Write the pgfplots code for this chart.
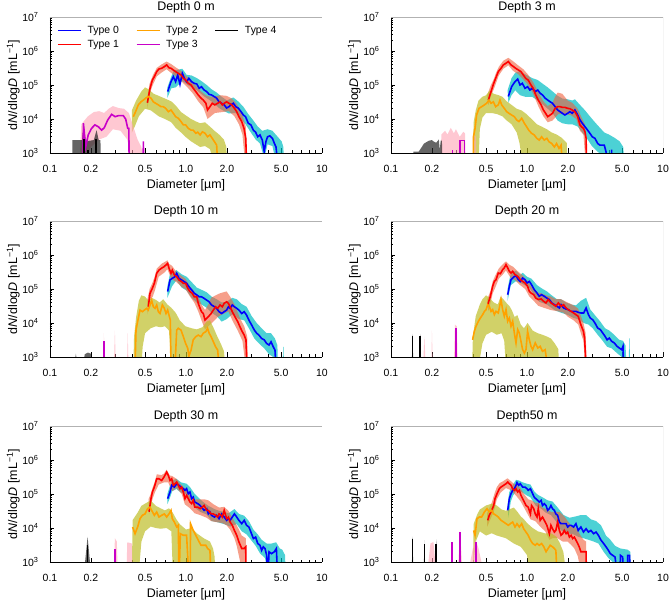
\documentclass[border=0pt]{standalone}
\usepackage{fontspec}
\setmainfont{Liberation Sans}
\usepackage{pgfplots}
\pgfplotsset{compat=1.18}
\definecolor{c0}{RGB}{0,0,255}
\definecolor{c1}{RGB}{255,0,0}
\definecolor{c2}{RGB}{255,162,0}
\definecolor{c3}{RGB}{200,0,200}
\definecolor{c4}{RGB}{0,0,0}
\definecolor{b0}{RGB}{0,190,195}
\definecolor{b1}{RGB}{240,95,60}
\definecolor{b2}{RGB}{190,190,40}
\definecolor{b3}{RGB}{255,163,180}
\definecolor{b4}{RGB}{36,36,36}
\pgfplotsset{
 l0/.style={color=c0, line width=1.6bp},
 l1/.style={color=c1, line width=1.6bp},
 l2/.style={color=c2, line width=1.6bp},
 l3/.style={color=c3, line width=1.6bp},
 l4/.style={color=c4, line width=1.6bp},
 bd0/.style={fill=b0, fill opacity=0.7, draw=none},
 bd1/.style={fill=b1, fill opacity=0.6, draw=none},
 bd2/.style={fill=b2, fill opacity=0.7, draw=none},
 bd3/.style={fill=b3, fill opacity=0.6, draw=none},
 bd4/.style={fill=b4, fill opacity=0.7, draw=none},
}
\pgfplotsset{every axis/.append style={
  scale only axis, width=272bp, height=136bp,
  xmin=0.1, xmax=10, ymin=1e3, ymax=1e7,
  axis lines=left, axis line style={-, line width=0.8bp, black},
  xtick={0.1,0.2,0.5,1,2,5,10},
  xticklabels={0.1,0.2,0.5,1.0,2.0,5.0,10},
  minor xtick={0.3,0.4,0.6,0.7,0.8,0.9,3,4,6,7,8,9},
  ytick={1e3,1e4,1e5,1e6,1e7},
  yticklabels={10\textsuperscript{3},10\textsuperscript{4},10\textsuperscript{5},10\textsuperscript{6},10\textsuperscript{7}},
  minor ytick={2e3,3e3,4e3,5e3,6e3,7e3,8e3,9e3,2e4,3e4,4e4,5e4,6e4,7e4,8e4,9e4,2e5,3e5,4e5,5e5,6e5,7e5,8e5,9e5,2e6,3e6,4e6,5e6,6e6,7e6,8e6,9e6},
  tick align=inside, tick style={black, line width=0.6bp},
  major tick length=4.5bp, minor tick length=2.5bp,
  tick label style={font=\fontsize{10.5}{12}\selectfont},
  xticklabel style={yshift=-9bp},
  yticklabel style={xshift=-8bp},
  title style={font=\fontsize{12.5}{14}\selectfont, yshift=-6bp},
  label style={font=\fontsize{12.5}{14}\selectfont},
  xlabel={Diameter [µm]},
  ylabel={d\textit{N}/dlog\textit{D} [mL\textsuperscript{−1}]},
  xlabel style={at={(axis description cs:0.5,-0.235)}, anchor=center},
  ylabel style={at={(axis description cs:-0.135,0.5)}, anchor=center},
  unbounded coords=jump,
}}
\newcommand\frameit{\draw[gray!60, line width=0.6bp] (rel axis cs:0,1) -- (rel axis cs:1,1) -- (rel axis cs:1,0);}
\begin{document}
\begin{tikzpicture}
\path[use as bounding box] (0,0) rectangle (669bp,601bp);
%================ Panel 1: Depth 0 m
\begin{loglogaxis}[at={(50bp,448bp)}, anchor=south west, title={Depth 0 m},
  legend columns=3,
  legend image code/.code={\draw[#1, line width=1.3bp] (0bp,0bp) -- (23bp,0bp);},
  legend style={at={(0.015,0.965)}, anchor=north west, draw=none, fill=none,
   font=\fontsize{10.5}{12}\selectfont, row sep=1.5bp,
   /tikz/every odd column/.append style={column sep=4bp},
   /tikz/every even column/.append style={column sep=15bp}}]
\addplot[color=c0, line width=1.3bp] coordinates {(0.01,10) (0.011,10)};
\addlegendentry{Type 0}
\addplot[color=c2, line width=1.3bp] coordinates {(0.01,10) (0.011,10)};
\addlegendentry{Type 2}
\addplot[color=c4, line width=1.3bp] coordinates {(0.01,10) (0.011,10)};
\addlegendentry{Type 4}
\addplot[color=c1, line width=1.3bp] coordinates {(0.01,10) (0.011,10)};
\addlegendentry{Type 1}
\addplot[color=c3, line width=1.3bp] coordinates {(0.01,10) (0.011,10)};
\addlegendentry{Type 3}
\addplot[bd0, forget plot] coordinates {(0.73,8.5e4) (0.78,1.8e5) (0.81,2.6e5) (0.87,2.8e5) (0.94,3.0e5) (1.01,2.0e5) (1.1,1.9e5) (1.2,1.6e5) (1.3,1.3e5) (1.42,1.0e5) (1.54,7.5e4) (1.68,6.0e4) (1.83,4.5e4) (2.0,3.5e4) (2.14,4.0e4) (2.23,4.3e4) (2.42,3.3e4) (2.64,2.3e4) (2.87,1.4e4) (3.13,9e3) (3.37,6e3) (3.64,4.5e3) (3.98,5e3) (4.32,4.5e3) (4.72,3e3) (5.05,2.2e3) (5.2,1.5e3) (5.25,500)
 (4.6,500) (4.32,1.6e3) (3.98,1.8e3) (3.76,700) (3.5,1.9e3) (3.25,2.5e3) (3.0,4e3) (2.74,7e3) (2.54,1.0e4) (2.32,1.5e4) (2.07,1.45e4) (1.91,1.7e4) (1.75,2.1e4) (1.54,3.3e4) (1.36,4.6e4) (1.2,7e4) (1.05,9.5e4) (0.94,1.3e5) (0.84,8.5e4) (0.78,8e4) (0.73,4.2e4)};
\addplot[bd1, forget plot] coordinates {(0.52,4.5e4) (0.54,1.1e5) (0.57,1.9e5) (0.61,3.2e5) (0.66,4.0e5) (0.72,4.9e5) (0.78,4.1e5) (0.84,3.3e5) (0.92,2.6e5) (0.99,1.9e5) (1.09,1.4e5) (1.18,9.5e4) (1.29,6.5e4) (1.4,5.0e4) (1.5,4.5e4) (1.63,4.6e4) (1.78,5.0e4) (1.99,4.8e4) (2.17,4.0e4) (2.36,2.8e4) (2.57,1.5e4) (2.75,6e3) (2.82,500)
 (2.72,500) (2.6,3.5e3) (2.45,7e3) (2.27,1.2e4) (2.07,1.7e4) (1.85,1.6e4) (1.63,1.5e4) (1.44,1.0e4) (1.34,2.2e4) (1.23,3.3e4) (1.13,5.5e4) (1.04,8e4) (0.96,1.1e5) (0.88,1.6e5) (0.81,2.0e5) (0.72,2.9e5) (0.66,2.3e5) (0.61,1.8e5) (0.57,1.0e5) (0.54,5.5e4) (0.52,2.0e4)};
\addplot[bd2, forget plot] coordinates {(0.40,1.8e4) (0.43,3.5e4) (0.47,6.5e4) (0.50,8.5e4) (0.53,7.5e4) (0.58,5.5e4) (0.63,4.8e4) (0.7,4.0e4) (0.78,3.3e4) (0.84,2.5e4) (0.92,1.6e4) (0.99,1.3e4) (1.09,1.0e4) (1.18,8.5e3) (1.27,7.5e3) (1.38,8e3) (1.5,6e3) (1.62,4.5e3) (1.75,3.5e3) (1.9,2.5e3) (1.98,1.5e3) (2.0,500)
 (1.6,500) (1.5,1.3e3) (1.38,1.6e3) (1.27,1.5e3) (1.18,1.8e3) (1.09,2.2e3) (0.99,3.0e3) (0.92,4.0e3) (0.84,5.5e3) (0.78,8e3) (0.7,1.0e4) (0.63,1.2e4) (0.55,1.8e4) (0.5,2.0e4) (0.45,1.2e4) (0.42,6e3) (0.40,4e3)};
\addplot[bd3, forget plot] coordinates {(0.165,500) (0.17,7e3) (0.19,1.2e4) (0.21,1.6e4) (0.23,1.7e4) (0.25,1.5e4) (0.27,2.0e4) (0.29,2.4e4) (0.32,2.1e4) (0.35,2.0e4) (0.38,1.5e4) (0.41,6e3) (0.44,2.5e3) (0.47,1.5e3) (0.49,500)
 (0.40,500) (0.37,2.5e3) (0.33,4.5e3) (0.29,5e3) (0.26,3e3) (0.23,2.5e3) (0.20,1.5e3) (0.18,500)};
\addplot[bd4, forget plot] coordinates {(0.146,500) (0.146,2.4e3) (0.172,2.4e3) (0.177,7.5e3) (0.183,2.2e3) (0.21,2.4e3) (0.22,4.7e3) (0.228,2.4e3) (0.235,2.4e3) (0.236,500)};
\addplot[l0, forget plot] coordinates {(0.733,6.4e4) (0.776,1.25e5) (0.807,1.76e5) (0.839,1.25e5) (0.869,1.97e5) (0.903,1.05e5) (0.94,2.2e5) (0.972,1.57e5) (1.01,1.25e5) (1.05,1.57e5) (1.10,1.25e5) (1.15,1.12e5) (1.20,1.07e5) (1.25,8.0e4) (1.30,8.9e4) (1.36,7.1e4) (1.42,6.4e4) (1.48,5.3e4) (1.54,5.1e4) (1.62,4.5e4) (1.68,4.1e4) (1.75,3.2e4) (1.83,2.9e4) (1.91,2.6e4) (1.99,2.1e4) (2.07,2.3e4) (2.14,2.6e4) (2.23,2.9e4) (2.32,2.3e4) (2.42,2.1e4) (2.54,1.64e4) (2.64,1.31e4) (2.74,1.17e4) (2.87,7.5e3) (3.00,6.7e3) (3.13,4.7e3) (3.25,4.1e3) (3.37,3.0e3) (3.50,3.4e3) (3.64,2.4e3) (3.76,1.1e3) (3.87,2.15e3) (3.98,3.0e3) (4.14,3.2e3) (4.32,2.7e3) (4.47,1.9e3) (4.59,1.5e3) (4.72,500)};
\addplot[l1, forget plot] coordinates {(0.52,3.0e4) (0.544,8.0e4) (0.566,1.4e5) (0.585,1.76e5) (0.609,2.47e5) (0.633,2.96e5) (0.662,3.1e5) (0.693,3.46e5) (0.721,3.9e5) (0.750,3.2e5) (0.776,3.1e5) (0.807,2.76e5) (0.839,2.47e5) (0.878,2.2e5) (0.919,1.97e5) (0.956,1.57e5) (0.994,1.4e5) (1.04,1.12e5) (1.09,1.0e5) (1.13,8.0e4) (1.18,6.4e4) (1.23,5.1e4) (1.29,4.1e4) (1.34,3.6e4) (1.40,2.9e4) (1.44,1.84e4) (1.50,2.3e4) (1.56,2.9e4) (1.63,2.6e4) (1.71,2.9e4) (1.78,3.2e4) (1.85,2.6e4) (1.91,2.9e4) (1.99,3.2e4) (2.07,2.9e4) (2.17,2.6e4) (2.27,2.06e4) (2.36,1.64e4) (2.45,1.17e4) (2.57,8.4e3) (2.67,5.3e3) (2.75,2.7e3) (2.79,500)};
\addplot[l2, forget plot] coordinates {(0.410,1.17e4) (0.426,1.64e4) (0.446,2.6e4) (0.467,3.2e4) (0.486,3.6e4) (0.505,4.1e4) (0.528,4.6e4) (0.553,4.1e4) (0.575,3.2e4) (0.598,2.9e4) (0.626,2.6e4) (0.655,2.3e4) (0.681,2.3e4) (0.709,2.06e4) (0.742,1.64e4) (0.776,1.84e4) (0.807,1.47e4) (0.839,1.17e4) (0.878,1.05e4) (0.919,8.4e3) (0.956,6.7e3) (0.994,6.7e3) (1.04,5.3e3) (1.09,4.7e3) (1.13,4.7e3) (1.18,3.8e3) (1.22,4.1e3) (1.27,3.4e3) (1.32,4.2e3) (1.38,3.8e3) (1.44,3.0e3) (1.50,3.4e3) (1.56,2.7e3) (1.62,2.15e3) (1.68,1.7e3) (1.71,500)};
\addplot[l3, forget plot] coordinates {(0.175,500) (0.176,7.5e3) (0.183,1.5e3) (0.191,3.4e3) (0.202,5.3e3) (0.214,6.7e3) (0.227,5.9e3) (0.240,4.7e3) (0.251,5.6e3) (0.266,9.4e3) (0.284,1.37e4) (0.301,1.17e4) (0.318,1.25e4) (0.346,1.25e4) (0.360,1.0e4) (0.373,5.3e3) (0.38,5.3e3) (0.382,500) (0.484,500) (0.486,2.2e3) (0.488,500)};
\addplot[l4, forget plot] coordinates {(0.177,500) (0.177,2.6e3) (0.185,nan) (0.191,500) (0.191,1.2e3) (0.2,nan) (0.219,500) (0.219,2.5e3)};
\frameit
\end{loglogaxis}
%================ Panel 2: Depth 3 m
\begin{loglogaxis}[at={(391bp,448bp)}, anchor=south west, title={Depth 3 m}]
\addplot[bd0, forget plot] coordinates {(0.72,7e4) (0.77,1.6e5) (0.82,2.3e5) (0.87,2.5e5) (0.94,2.2e5) (1.01,1.9e5) (1.09,1.6e5) (1.2,1.4e5) (1.3,1.1e5) (1.42,8.5e4) (1.54,6.5e4) (1.68,4.8e4) (1.82,4.0e4) (1.99,3.8e4) (2.15,3.5e4) (2.25,3.8e4) (2.45,2.6e4) (2.67,1.8e4) (2.9,1.2e4) (3.16,8e3) (3.44,5.5e3) (3.7,4e3) (4.0,3.5e3) (4.4,2.8e3) (4.8,2.2e3) (5.1,1.5e3) (5.2,500)
 (4.0,500) (3.8,700) (3.5,900) (3.3,1.1e3) (3.0,1.6e3) (2.79,2.5e3) (2.55,4e3) (2.36,6e3) (2.15,7e3) (1.99,7e3) (1.82,7.5e3) (1.68,9e3) (1.54,1.5e4) (1.42,2.0e4) (1.3,2.7e4) (1.2,3.5e4) (1.09,4.5e4) (0.97,4.5e4) (0.89,5e4) (0.82,7e4) (0.77,5e4) (0.73,3e4)};
\addplot[bd1, forget plot] coordinates {(0.51,5.0e4) (0.54,9.5e4) (0.57,1.5e5) (0.59,2.2e5) (0.62,3.4e5) (0.67,5.2e5) (0.73,6.3e5) (0.79,5.0e5) (0.86,3.8e5) (0.94,2.9e5) (1.02,2.0e5) (1.11,1.2e5) (1.21,6.0e4) (1.32,3.3e4) (1.42,2.4e4) (1.54,3.0e4) (1.61,4.5e4) (1.68,6.0e4) (1.82,5.5e4) (1.99,3.5e4) (2.15,3.0e4) (2.36,2.0e4) (2.52,1.1e4) (2.67,7e3) (2.75,500)
 (2.7,500) (2.6,3.5e3) (2.45,4.5e3) (2.3,1.0e4) (2.1,1.3e4) (1.9,1.4e4) (1.7,1.4e4) (1.54,9e3) (1.42,8e3) (1.32,1.2e4) (1.21,2.4e4) (1.11,5.5e4) (1.02,1.0e5) (0.94,1.45e5) (0.86,2.1e5) (0.79,2.6e5) (0.73,3.8e5) (0.67,3.0e5) (0.62,1.9e5) (0.59,1.1e5) (0.57,7.5e4) (0.54,4.5e4) (0.52,2.5e4)};
\addplot[bd2, forget plot] coordinates {(0.40,500) (0.405,8e3) (0.42,1.8e4) (0.44,3.5e4) (0.47,4.5e4) (0.5,5.0e4) (0.53,6.8e4) (0.57,5.5e4) (0.62,5.0e4) (0.66,4.5e4) (0.71,3.3e4) (0.77,2.6e4) (0.84,2.0e4) (0.91,1.8e4) (0.99,1.4e4) (1.08,1.0e4) (1.18,7e3) (1.28,6e3) (1.4,5e3) (1.52,4e3) (1.65,3.5e3) (1.8,2.8e3) (1.96,2.0e3) (1.97,500)
 (0.93,500) (0.88,2.0e3) (0.84,4e3) (0.77,7e3) (0.71,9e3) (0.66,1.2e4) (0.6,1.4e4) (0.55,1.5e4) (0.5,1.5e4) (0.47,1.1e4) (0.45,5e3) (0.44,500)};
\addplot[bd3, forget plot] coordinates {(0.23,500) (0.235,3.5e3) (0.25,4.5e3) (0.26,3.5e3) (0.275,5.5e3) (0.29,3.8e3) (0.30,5.0e3) (0.32,3.0e3) (0.34,4.2e3) (0.35,3.8e3) (0.355,500) (0.40,500) (0.405,3.5e3) (0.42,3.0e3) (0.425,500)};
\addplot[bd4, forget plot] coordinates {(0.146,500) (0.146,1.1e3) (0.16,1.1e3) (0.175,1.9e3) (0.19,2.3e3) (0.2,2.4e3) (0.205,2.2e3) (0.215,2.0e3) (0.225,2.5e3) (0.228,1.2e3) (0.232,2.3e3) (0.237,2.3e3) (0.238,500)};
\addplot[l0, forget plot] coordinates {(0.729,4.6e4) (0.771,8.9e4) (0.816,1.25e5) (0.854,1.5e5) (0.888,1.0e5) (0.924,1.12e5) (0.967,8.0e4) (1.01,8.9e4) (1.05,7.1e4) (1.09,8.0e4) (1.15,6.4e4) (1.20,7.1e4) (1.25,5.7e4) (1.30,5.1e4) (1.36,4.1e4) (1.42,3.6e4) (1.48,3.2e4) (1.54,2.9e4) (1.61,2.3e4) (1.68,1.84e4) (1.75,1.64e4) (1.82,1.47e4) (1.90,1.31e4) (1.99,1.47e4) (2.07,1.64e4) (2.15,1.47e4) (2.25,1.84e4) (2.36,1.31e4) (2.45,9.4e3) (2.55,7.5e3) (2.67,5.9e3) (2.79,4.7e3) (2.90,3.8e3) (3.02,3.0e3) (3.16,2.7e3) (3.31,1.9e3) (3.44,1.7e3) (3.58,1.7e3) (3.70,1.7e3) (3.81,1.1e3) (3.88,500) (4.18,500) (4.19,1.25e3) (4.2,500)};
\addplot[l1, forget plot] coordinates {(0.520,3.6e4) (0.544,6.4e4) (0.566,1.05e5) (0.588,1.57e5) (0.615,2.47e5) (0.644,3.1e5) (0.670,3.9e5) (0.697,4.3e5) (0.729,4.9e5) (0.763,3.9e5) (0.793,3.5e5) (0.825,3.1e5) (0.864,2.76e5) (0.903,2.47e5) (0.940,1.97e5) (0.978,1.57e5) (1.02,1.4e5) (1.07,1.0e5) (1.11,8.0e4) (1.16,5.1e4) (1.21,3.6e4) (1.27,2.6e4) (1.32,1.84e4) (1.37,1.47e4) (1.42,1.17e4) (1.48,1.31e4) (1.54,1.47e4) (1.61,2.06e4) (1.68,2.3e4) (1.75,2.3e4) (1.82,2.2e4) (1.90,2.2e4) (1.99,2.06e4) (2.07,2.0e4) (2.15,1.84e4) (2.25,1.64e4) (2.36,1.17e4) (2.45,6.7e3) (2.52,5.9e3) (2.60,5.3e3) (2.67,4.2e3) (2.72,2.7e3) (2.74,500)};
\addplot[l2, forget plot] coordinates {(0.403,500) (0.404,3.0e3) (0.415,5.3e3) (0.426,1.31e4) (0.444,2.06e4) (0.464,2.3e4) (0.486,2.6e4) (0.505,2.9e4) (0.525,3.6e4) (0.544,2.9e4) (0.566,3.2e4) (0.588,2.3e4) (0.615,2.6e4) (0.633,3.6e4) (0.651,2.6e4) (0.681,2.06e4) (0.709,1.64e4) (0.737,1.47e4) (0.771,1.31e4) (0.807,1.17e4) (0.839,9.4e3) (0.873,8.4e3) (0.914,1.05e4) (0.956,7.5e3) (0.994,5.9e3) (1.03,4.7e3) (1.08,3.8e3) (1.13,3.4e3) (1.18,2.7e3) (1.23,2.4e3) (1.28,3.0e3) (1.34,2.4e3) (1.40,2.7e3) (1.45,2.15e3) (1.52,1.9e3) (1.59,1.5e3) (1.65,1.9e3) (1.72,1.37e3) (1.78,1.7e3) (1.82,500)};
\addplot[l3, forget plot] coordinates {(0.284,500) (0.284,1.2e3) (0.3,nan) (0.322,500) (0.322,2.3e3) (0.346,2.3e3) (0.346,500)};
\frameit
\end{loglogaxis}
%================ Panel 3: Depth 10 m
\begin{loglogaxis}[at={(50bp,244bp)}, anchor=south west, title={Depth 10 m}]
\addplot[bd0, forget plot] coordinates {(0.73,1.2e5) (0.76,2.6e5) (0.83,3.3e5) (0.85,3.6e5) (0.93,2.7e5) (1.01,2.3e5) (1.1,1.6e5) (1.2,1.1e5) (1.3,9.5e4) (1.42,8e4) (1.54,6e4) (1.68,5e4) (1.83,4.0e4) (1.99,4.2e4) (2.19,5.5e4) (2.36,5e4) (2.57,3.6e4) (2.79,3.0e4) (3.04,1.6e4) (3.31,1.0e4) (3.6,7e3) (3.92,5e3) (4.22,5e3) (4.51,3.5e3) (4.7,2.2e3) (4.75,500)
 (4.55,500) (4.38,1.0e3) (4.08,1.2e3) (3.76,1.8e3) (3.44,2.5e3) (3.18,3.5e3) (2.9,7e3) (2.68,1.2e4) (2.45,1.3e4) (2.19,1.8e4) (1.99,1.3e4) (1.83,1.1e4) (1.68,1.6e4) (1.54,2.0e4) (1.42,2.8e4) (1.3,3.5e4) (1.2,4.0e4) (1.1,5.5e4) (1.01,9e4) (0.93,1.1e5) (0.85,1.8e5) (0.79,1.2e5) (0.73,5.5e4)};
\addplot[bd0, forget plot] coordinates {(5.15,500) (5.18,2.0e3) (5.22,2.0e3) (5.25,500)};
\addplot[bd1, forget plot] coordinates {(0.52,5e4) (0.54,1.0e5) (0.57,1.6e5) (0.59,2.4e5) (0.61,4.0e5) (0.66,5.5e5) (0.71,6.5e5) (0.73,7e5) (0.75,5.5e5) (0.79,4.8e5) (0.85,3.2e5) (0.93,2.4e5) (0.99,2.0e5) (1.07,1.2e5) (1.15,8.5e4) (1.23,6e4) (1.3,3.5e4) (1.38,2.4e4) (1.46,3.5e4) (1.53,5.5e4) (1.65,6.5e4) (1.78,7.5e4) (1.99,8.5e4) (2.11,6e4) (2.29,3.3e4) (2.49,1.4e4) (2.68,8e3) (2.82,4e3) (2.85,500)
 (2.75,500) (2.6,3e3) (2.4,6e3) (2.19,1.2e4) (2.05,2.2e4) (1.85,1.8e4) (1.71,1.5e4) (1.59,1.1e4) (1.46,8e3) (1.38,6.5e3) (1.3,1.2e4) (1.23,2.2e4) (1.15,4e4) (1.07,6e4) (0.99,1.0e5) (0.93,1.15e5) (0.85,1.6e5) (0.78,2.0e5) (0.73,3.8e5) (0.69,3.0e5) (0.63,2.3e5) (0.59,9e4) (0.57,6e4) (0.54,4.5e4) (0.52,1.8e4)};
\addplot[bd2, forget plot] coordinates {(0.41,500) (0.415,4e3) (0.43,1.5e4) (0.45,4.5e4) (0.47,6.5e4) (0.5,6e4) (0.53,4.5e4) (0.56,5.5e4) (0.6,4.8e4) (0.64,4.0e4) (0.68,5.0e4) (0.73,3.5e4) (0.78,2.8e4) (0.84,2.0e4) (0.9,1.2e4) (0.99,8e3) (1.1,7e3) (1.2,6.5e3) (1.32,7.5e3) (1.42,1.1e4) (1.5,1.2e4) (1.6,7e3) (1.7,4e3) (1.8,2.5e3) (1.9,1.5e3) (1.95,500)
 (0.78,500) (0.75,6e3) (0.7,8e3) (0.65,7.5e3) (0.6,8e3) (0.55,7e3) (0.5,5e3) (0.48,2e3) (0.47,500)};
\addplot[bd3, forget plot] coordinates {(0.247,500) (0.249,5e3) (0.253,500) (0.295,500) (0.30,6e3) (0.305,500) (0.368,500) (0.373,5e3) (0.378,500)};
\addplot[bd4, forget plot] coordinates {(0.150,500) (0.155,1.25e3) (0.16,500) (0.175,500) (0.18,1.2e3) (0.19,1.35e3) (0.2,1.25e3) (0.205,500)};
\addplot[l0, forget plot] coordinates {(0.733,8.4e4) (0.763,1.84e5) (0.793,2.06e5) (0.830,2.3e5) (0.854,2.9e5) (0.888,2.06e5) (0.929,1.84e5) (0.972,1.64e5) (1.01,1.47e5) (1.05,1.17e5) (1.10,9.4e4) (1.15,7.5e4) (1.20,6.7e4) (1.25,5.9e4) (1.30,5.9e4) (1.36,5.3e4) (1.42,4.7e4) (1.48,4.2e4) (1.54,3.4e4) (1.62,3.0e4) (1.68,2.7e4) (1.75,2.15e4) (1.83,1.9e4) (1.91,2.15e4) (1.99,2.4e4) (2.05,3.0e4) (2.11,2.7e4) (2.19,3.4e4) (2.27,3.0e4) (2.36,2.7e4) (2.45,2.4e4) (2.57,1.9e4) (2.68,2.15e4) (2.79,1.7e4) (2.90,1.22e4) (3.04,8.7e3) (3.18,6.2e3) (3.31,5.0e3) (3.44,4.4e3) (3.60,3.5e3) (3.76,3.2e3) (3.92,2.5e3) (4.08,2.25e3) (4.22,2.8e3) (4.38,2.0e3) (4.51,1.6e3) (4.59,500)};
\addplot[l1, forget plot] coordinates {(0.528,3.0e4) (0.544,7.5e4) (0.566,1.05e5) (0.585,1.47e5) (0.609,2.9e5) (0.633,3.6e5) (0.662,4.1e5) (0.689,4.5e5) (0.713,5.1e5) (0.733,5.7e5) (0.750,4.1e5) (0.776,2.9e5) (0.793,3.6e5) (0.821,2.6e5) (0.854,2.3e5) (0.888,1.84e5) (0.929,1.64e5) (0.956,1.47e5) (0.994,1.47e5) (1.03,1.05e5) (1.07,8.4e4) (1.11,7.5e4) (1.15,5.9e4) (1.20,5.9e4) (1.23,3.8e4) (1.27,2.7e4) (1.30,2.15e4) (1.34,1.9e4) (1.38,1.22e4) (1.42,1.37e4) (1.46,1.53e4) (1.53,1.9e4) (1.59,2.4e4) (1.65,3.0e4) (1.71,2.7e4) (1.78,3.4e4) (1.85,3.0e4) (1.91,3.8e4) (1.99,4.2e4) (2.05,3.8e4) (2.11,3.0e4) (2.19,2.15e4) (2.29,1.53e4) (2.40,1.1e4) (2.49,7.8e3) (2.59,5.6e3) (2.68,4.4e3) (2.76,3.2e3) (2.81,500)};
\addplot[l2, forget plot] coordinates {(0.422,500) (0.429,6.2e3) (0.441,1.1e4) (0.459,2.4e4) (0.478,2.15e4) (0.494,2.4e4) (0.514,2.7e4) (0.528,2.4e4) (0.544,3.4e4) (0.559,4.7e4) (0.575,3.0e4) (0.592,2.7e4) (0.609,3.4e4) (0.626,2.15e4) (0.644,1.9e4) (0.670,3.4e4) (0.693,2.7e4) (0.713,1.9e4) (0.733,2.4e4) (0.750,1.7e4) (0.767,1.22e4) (0.776,500) (0.830,500) (0.854,6.2e3) (0.878,7.0e3) (0.919,6.2e3) (0.956,3.96e3) (0.994,2.5e3) (1.03,1.8e3) (1.05,1.05e3) (1.09,1.6e3) (1.13,3.2e3) (1.18,3.96e3) (1.23,4.4e3) (1.29,3.96e3) (1.34,5.0e3) (1.40,5.6e3) (1.44,7.0e3) (1.48,5.0e3) (1.53,3.96e3) (1.59,2.8e3) (1.65,2.0e3) (1.71,1.6e3) (1.75,500)};
\addplot[l3, forget plot] coordinates {(0.25,500) (0.25,3.0e3)};
\frameit
\end{loglogaxis}
%================ Panel 4: Depth 20 m
\begin{loglogaxis}[at={(391bp,244bp)}, anchor=south west, title={Depth 20 m}]
\addplot[bd0, forget plot] coordinates {(0.72,1.0e5) (0.74,1.8e5) (0.76,2.8e5) (0.8,3.2e5) (0.83,3.5e5) (0.89,2.6e5) (0.93,3.0e5) (1.0,2.3e5) (1.08,2.0e5) (1.185,1.3e5) (1.28,1.05e5) (1.4,8.5e4) (1.52,6.5e4) (1.66,5e4) (1.78,5.0e4) (1.94,4.0e4) (2.11,3.5e4) (2.29,3.3e4) (2.49,4.5e4) (2.72,5.5e4) (2.92,2.5e4) (3.16,1.7e4) (3.46,1.1e4) (3.75,7e3) (4.03,6e3) (4.38,4.5e3) (4.77,3.2e3) (5.08,3.0e3) (5.3,2.2e3) (5.4,500)
 (5.1,500) (4.97,1.0e3) (4.59,1.3e3) (4.19,1.8e3) (3.88,2.0e3) (3.6,3.0e3) (3.31,4.5e3) (3.04,7e3) (2.83,9e3) (2.61,1.0e4) (2.38,1.3e4) (2.2,1.4e4) (2.01,1.7e4) (1.78,2.0e4) (1.59,2.4e4) (1.4,3.5e4) (1.23,4.2e4) (1.13,6.5e4) (1.04,1.1e5) (0.93,1.4e5) (0.83,1.7e5) (0.76,1.3e5) (0.72,4.5e4)};
\addplot[bd0, forget plot] coordinates {(5.6,500) (5.64,3.5e3) (5.68,3.5e3) (5.72,500)};
\addplot[bd1, forget plot] coordinates {(0.51,5e4) (0.54,9e4) (0.56,1.7e5) (0.59,2.7e5) (0.62,4.0e5) (0.66,5.2e5) (0.70,6.5e5) (0.74,5.2e5) (0.79,4.5e5) (0.85,3.4e5) (0.93,2.5e5) (1.01,1.7e5) (1.07,1.2e5) (1.16,8e4) (1.27,7.5e4) (1.38,6.5e4) (1.5,6e4) (1.63,5.0e4) (1.78,5.0e4) (1.94,4.2e4) (2.11,3.6e4) (2.29,3.0e4) (2.38,2.6e4) (2.49,1.6e4) (2.6,1.0e4) (2.7,5e3) (2.75,500)
 (2.68,500) (2.6,3e3) (2.49,5e3) (2.38,9e3) (2.2,1.2e4) (2.01,1.5e4) (1.86,2.0e4) (1.7,2.2e4) (1.5,2.4e4) (1.33,2.8e4) (1.21,3.2e4) (1.12,4.5e4) (1.04,6e4) (0.97,1.0e5) (0.89,1.3e5) (0.82,1.8e5) (0.76,2.1e5) (0.7,3.5e5) (0.66,2.6e5) (0.62,2.0e5) (0.59,1.2e5) (0.56,7.5e4) (0.54,4e4) (0.52,2.2e4)};
\addplot[bd2, forget plot] coordinates {(0.395,500) (0.40,4e3) (0.42,1.6e4) (0.45,3.5e4) (0.47,5e4) (0.5,6.5e4) (0.53,5.5e4) (0.57,4.0e4) (0.61,3.5e4) (0.64,6.0e4) (0.67,5e4) (0.71,3.8e4) (0.75,3.0e4) (0.78,2.2e4) (0.81,1.5e4) (0.85,1.7e4) (0.9,9e3) (0.95,7e3) (1.01,1.0e4) (1.1,6e3) (1.2,5e3) (1.3,4.5e3) (1.4,4.0e3) (1.5,3.5e3) (1.6,2.5e3) (1.7,1.7e3) (1.72,500)
 (0.70,500) (0.68,3e3) (0.65,5e3) (0.6,4.5e3) (0.55,5.5e3) (0.5,4.5e3) (0.47,2.5e3) (0.44,500)};
\addplot[bd3, forget plot] coordinates {(0.172,500) (0.176,4e3) (0.18,500) (0.198,500) (0.20,6e3) (0.203,500) (0.29,500) (0.295,9e3) (0.305,8e3) (0.31,500)};
\addplot[bd4, forget plot] coordinates {(0.142,500) (0.144,4.8e3) (0.146,500) (0.162,500) (0.164,4.8e3) (0.166,500)};
\addplot[l0, forget plot] coordinates {(0.721,6.8e4) (0.742,1.2e5) (0.763,1.88e5) (0.798,2.25e5) (0.830,2.47e5) (0.864,1.88e5) (0.893,1.67e5) (0.929,2.1e5) (0.967,1.88e5) (1.0,1.5e5) (1.04,1.67e5) (1.08,1.34e5) (1.13,9.6e4) (1.185,7.6e4) (1.23,6.1e4) (1.28,6.8e4) (1.34,6.1e4) (1.40,5.4e4) (1.46,4.9e4) (1.52,3.9e4) (1.59,3.45e4) (1.66,3.1e4) (1.73,2.76e4) (1.78,3.45e4) (1.86,2.76e4) (1.94,2.57e4) (2.01,2.47e4) (2.11,2.2e4) (2.20,2.2e4) (2.29,2.2e4) (2.38,2.06e4) (2.49,1.97e4) (2.61,1.97e4) (2.72,2.76e4) (2.83,1.76e4) (2.92,1.4e4) (3.04,1.25e4) (3.16,1.0e4) (3.31,7.1e3) (3.46,6.4e3) (3.60,5.1e3) (3.75,4.06e3) (3.88,3.2e3) (4.03,3.6e3) (4.19,2.9e3) (4.38,2.6e3) (4.59,2.06e3) (4.77,1.84e3) (4.97,1.64e3) (5.08,2.06e3) (5.14,500)};
\addplot[l1, forget plot] coordinates {(0.514,3.45e4) (0.538,6.1e4) (0.559,1.2e5) (0.575,1.67e5) (0.592,1.88e5) (0.615,2.95e5) (0.637,2.82e5) (0.662,3.7e5) (0.681,4.2e5) (0.701,5.2e5) (0.721,4.2e5) (0.742,3.3e5) (0.763,2.95e5) (0.785,3.3e5) (0.816,2.64e5) (0.854,2.36e5) (0.893,1.88e5) (0.929,1.67e5) (0.967,1.5e5) (1.01,1.2e5) (1.04,8.5e4) (1.07,7.6e4) (1.12,6.8e4) (1.16,5.4e4) (1.21,4.9e4) (1.27,5.1e4) (1.33,4.3e4) (1.38,3.9e4) (1.43,4.9e4) (1.50,3.9e4) (1.57,3.45e4) (1.63,3.1e4) (1.70,3.9e4) (1.78,3.1e4) (1.86,3.45e4) (1.94,2.76e4) (2.01,2.47e4) (2.11,2.2e4) (2.20,1.97e4) (2.29,1.76e4) (2.38,1.57e4) (2.49,8.9e3) (2.60,5.7e3) (2.65,3.6e3) (2.72,500)};
\addplot[l2, forget plot] coordinates {(0.398,3.2e3) (0.410,5.7e3) (0.422,8.0e3) (0.439,1.12e4) (0.454,1.4e4) (0.472,1.76e4) (0.486,2.2e4) (0.50,2.47e4) (0.514,3.45e4) (0.528,3.1e4) (0.544,2.2e4) (0.559,2.47e4) (0.575,1.76e4) (0.592,2.2e4) (0.615,1.97e4) (0.644,4.9e4) (0.662,2.47e4) (0.681,1.57e4) (0.701,2.47e4) (0.721,1.12e4) (0.742,1.4e4) (0.763,8.0e3) (0.785,1.12e4) (0.807,5.1e3) (0.830,2.6e3) (0.854,6.4e3) (0.878,5.1e3) (0.903,2.9e3) (0.929,1.64e3) (0.956,1.3e3) (0.983,1.64e3) (1.01,5.7e3) (1.04,3.2e3) (1.07,2.06e3) (1.10,1.64e3) (1.15,2.6e3) (1.20,1.84e3) (1.25,2.06e3) (1.30,1.47e3) (1.36,1.64e3) (1.42,500)};
\addplot[l3, forget plot] coordinates {(0.30,500) (0.30,7.1e3)};
\addplot[l4, forget plot] coordinates {(0.144,500) (0.144,4.2e3) (0.15,nan) (0.164,500) (0.164,4.2e3)};
\frameit
\end{loglogaxis}
%================ Panel 5: Depth 30 m
\begin{loglogaxis}[at={(50bp,39bp)}, anchor=south west, title={Depth 30 m}]
\addplot[bd0, forget plot] coordinates {(0.73,1.0e5) (0.76,1.7e5) (0.79,2.5e5) (0.85,2.8e5) (0.92,2.2e5) (1.01,2.0e5) (1.07,1.6e5) (1.16,1.0e5) (1.27,7e4) (1.36,5.5e4) (1.46,4.5e4) (1.62,3.6e4) (1.75,3.2e4) (1.91,3.0e4) (2.05,2.7e4) (2.27,3.6e4) (2.45,2.6e4) (2.68,2.3e4) (2.9,1.6e4) (3.13,9e3) (3.37,6.5e3) (3.6,4.5e3) (3.92,3.5e3) (4.26,3.5e3) (4.6,3.8e3) (4.9,2.5e3) (5.1,2.3e3) (5.35,1.6e3) (5.4,500)
 (4.0,500) (3.81,1.3e3) (3.5,1.8e3) (3.25,3.0e3) (3.0,4.5e3) (2.79,6.5e3) (2.57,8e3) (2.36,1.3e4) (2.11,1.1e4) (1.91,1.3e4) (1.68,1.5e4) (1.54,1.6e4) (1.42,2.5e4) (1.27,3e4) (1.16,4.0e4) (1.07,7e4) (1.01,9.5e4) (0.92,1.1e5) (0.85,1.4e5) (0.79,1.2e5) (0.76,7.5e4) (0.73,5e4)};
\addplot[bd1, forget plot] coordinates {(0.53,7e4) (0.55,1.0e5) (0.57,1.6e5) (0.59,2.3e5) (0.61,3.8e5) (0.66,3.6e5) (0.69,4.0e5) (0.72,5.2e5) (0.76,3.5e5) (0.79,3.4e5) (0.85,2.8e5) (0.9,2.1e5) (0.96,1.6e5) (1.01,1.3e5) (1.07,9e4) (1.16,7e4) (1.27,7e4) (1.36,7e4) (1.46,6.5e4) (1.59,5e4) (1.75,4e4) (1.91,4.2e4) (2.05,3.2e4) (2.19,2.0e4) (2.36,1.2e4) (2.45,9e3) (2.57,6e3) (2.75,5e3) (2.78,500)
 (2.6,500) (2.45,1.5e3) (2.36,3.0e3) (2.27,5e3) (2.11,9e3) (1.99,1.2e4) (1.85,1.4e4) (1.65,1.5e4) (1.53,1.6e4) (1.42,2.0e4) (1.27,2.4e4) (1.16,2.7e4) (1.07,3.8e4) (0.98,5e4) (0.93,1.0e5) (0.85,1.5e5) (0.79,1.2e5) (0.74,2.2e5) (0.69,2.2e5) (0.63,1.9e5) (0.59,1.1e5) (0.57,7.5e4) (0.55,4.5e4) (0.535,2.5e4)};
\addplot[bd2, forget plot] coordinates {(0.40,500) (0.405,1.7e4) (0.44,2.8e4) (0.47,4.5e4) (0.5,5.2e4) (0.55,6.5e4) (0.6,4.5e4) (0.65,3.8e4) (0.7,3.3e4) (0.75,3.8e4) (0.8,2.8e4) (0.85,1.8e4) (0.9,1.3e4) (1.0,9e3) (1.1,1.0e4) (1.2,7e3) (1.35,5e3) (1.5,4e3) (1.58,2.5e3) (1.62,1.5e3) (1.65,500)
 (0.8,500) (0.78,8e3) (0.72,1.0e4) (0.65,9.5e3) (0.6,1.0e4) (0.55,1.1e4) (0.5,8e3) (0.47,4e3) (0.45,500)};
\addplot[bd3, forget plot] coordinates {(0.295,500) (0.30,5e3) (0.31,4e3) (0.315,500) (0.365,500) (0.37,3.8e3) (0.40,3.5e3) (0.405,500)};
\addplot[bd4, forget plot] coordinates {(0.178,500) (0.189,5.5e3) (0.2,500)};
\addplot[l0, forget plot] coordinates {(0.733,7.3e4) (0.763,1.14e5) (0.785,1.8e5) (0.821,1.6e5) (0.854,2.0e5) (0.888,1.8e5) (0.919,1.6e5) (0.956,1.43e5) (0.983,1.28e5) (1.01,1.43e5) (1.04,1.02e5) (1.07,1.14e5) (1.10,7.3e4) (1.13,8.1e4) (1.16,5.8e4) (1.22,5.2e4) (1.27,4.6e4) (1.30,4.1e4) (1.36,3.3e4) (1.42,3.7e4) (1.46,2.6e4) (1.50,2.95e4) (1.54,2.36e4) (1.62,2.1e4) (1.68,2.36e4) (1.75,1.88e4) (1.83,2.6e4) (1.91,2.1e4) (1.99,1.68e4) (2.05,1.88e4) (2.11,1.68e4) (2.19,2.1e4) (2.27,2.6e4) (2.36,2.1e4) (2.45,1.68e4) (2.57,1.34e4) (2.68,1.68e4) (2.79,1.2e4) (2.90,1.07e4) (3.00,7.6e3) (3.13,4.9e3) (3.25,5.4e3) (3.37,3.5e3) (3.50,3.1e3) (3.60,2.2e3) (3.70,2.8e3) (3.81,2.5e3) (3.92,1.57e3) (3.96,500) (4.02,500) (4.08,2.0e3) (4.26,1.76e3) (4.46,2.0e3) (4.62,2.5e3) (4.70,500)};
\addplot[l1, forget plot] coordinates {(0.535,3.0e4) (0.553,7.3e4) (0.566,1.14e5) (0.585,1.6e5) (0.609,2.8e5) (0.633,2.8e5) (0.662,2.5e5) (0.689,3.15e5) (0.721,4.4e5) (0.742,3.5e5) (0.763,2.5e5) (0.785,2.8e5) (0.807,1.8e5) (0.830,2.0e5) (0.854,2.25e5) (0.878,1.8e5) (0.903,1.43e5) (0.929,1.6e5) (0.956,1.14e5) (0.983,7.3e4) (1.01,9.1e4) (1.04,7.3e4) (1.07,5.8e4) (1.10,5.2e4) (1.13,6.5e4) (1.16,4.1e4) (1.22,4.1e4) (1.27,3.7e4) (1.32,4.1e4) (1.36,4.6e4) (1.42,3.3e4) (1.46,3.3e4) (1.53,2.6e4) (1.59,2.6e4) (1.65,2.36e4) (1.71,2.1e4) (1.75,2.6e4) (1.81,2.36e4) (1.85,2.1e4) (1.91,3.3e4) (1.99,1.88e4) (2.05,2.1e4) (2.11,1.5e4) (2.19,1.2e4) (2.27,8.5e3) (2.36,6.1e3) (2.45,3.9e3) (2.57,2.5e3) (2.67,2.5e3) (2.75,2.8e3) (2.76,500)};
\addplot[l2, forget plot] coordinates {(0.405,1.07e4) (0.422,6.8e3) (0.441,1.07e4) (0.459,1.88e4) (0.478,2.36e4) (0.50,2.6e4) (0.522,3.7e4) (0.544,4.1e4) (0.559,3.3e4) (0.585,2.36e4) (0.609,2.95e4) (0.633,2.1e4) (0.662,2.36e4) (0.693,2.6e4) (0.721,2.1e4) (0.750,2.6e4) (0.776,3.3e4) (0.793,1.88e4) (0.821,1.5e4) (0.854,1.07e4) (0.878,1.2e4) (0.887,500) (0.893,500) (0.909,6.8e3) (0.956,6.1e3) (1.01,6.1e3) (1.045,500) (1.075,500) (1.08,1.34e4) (1.13,8.5e3) (1.18,6.1e3) (1.23,4.4e3) (1.29,3.1e3) (1.34,3.1e3) (1.40,3.1e3) (1.44,2.5e3) (1.50,2.2e3) (1.52,500)};
\addplot[l3, forget plot] coordinates {(0.30,500) (0.30,2.4e3)};
\addplot[l4, forget plot] coordinates {(0.189,500) (0.189,3.1e3)};
\frameit
\end{loglogaxis}
%================ Panel 6: Depth50 m
\begin{loglogaxis}[at={(391bp,39bp)}, anchor=south west, title={Depth50 m}]
\addplot[bd0, forget plot] coordinates {(0.72,5e4) (0.74,1.1e5) (0.76,1.5e5) (0.79,1.9e5) (0.83,2.6e5) (0.87,2.5e5) (0.93,2.2e5) (1.0,2.0e5) (1.06,1.9e5) (1.13,1.2e5) (1.2,9.5e4) (1.3,8e4) (1.42,6.5e4) (1.54,6e4) (1.68,4e4) (1.86,2.4e4) (2.05,2.0e4) (2.29,2.2e4) (2.49,2.4e4) (2.72,2.4e4) (2.95,1.8e4) (3.22,1.6e4) (3.5,1.2e4) (3.81,6e3) (4.1,4.5e3) (4.44,3.0e3) (4.86,2.5e3) (5.5,2.3e3) (5.75,2.0e3) (5.8,500)
 (4.6,500) (4.27,1.0e3) (3.97,1.3e3) (3.66,2.0e3) (3.35,3.5e3) (3.09,4e3) (2.83,4.5e3) (2.6,5e3) (2.38,5.5e3) (2.2,6.5e3) (1.99,7e3) (1.78,8.5e3) (1.63,1.6e4) (1.5,2.4e4) (1.38,2.8e4) (1.27,3.7e4) (1.16,4.5e4) (1.06,8e4) (1.0,9e4) (0.93,1.1e5) (0.84,1.3e5) (0.79,9e4) (0.76,6e4) (0.73,2e4)};
\addplot[bd1, forget plot] coordinates {(0.51,2.8e4) (0.55,5.5e4) (0.58,1.1e5) (0.6,1.6e5) (0.63,2.1e5) (0.67,2.4e5) (0.72,2.9e5) (0.76,2.4e5) (0.8,2.0e5) (0.85,1.8e5) (0.9,1.4e5) (0.96,9.5e4) (1.02,7e4) (1.08,6.5e4) (1.15,5.5e4) (1.21,5.5e4) (1.3,4.0e4) (1.4,3.5e4) (1.5,3.0e4) (1.63,3.0e4) (1.73,3.0e4) (1.88,2.2e4) (1.99,1.6e4) (2.11,1.2e4) (2.29,1.0e4) (2.42,7e3) (2.6,4.5e3) (2.72,4.0e3) (2.74,500)
 (2.5,500) (2.36,1.5e3) (2.23,2.5e3) (2.11,3.2e3) (1.99,4.0e3) (1.83,4.0e3) (1.68,5e3) (1.54,5e3) (1.46,4.5e3) (1.36,8e3) (1.25,1.1e4) (1.15,1.6e4) (1.06,1.8e4) (0.98,3.2e4) (0.9,6e4) (0.83,9e4) (0.76,1.3e5) (0.7,1.5e5) (0.64,1.1e5) (0.6,7e4) (0.57,3.0e4) (0.55,2.2e4) (0.51,1.1e4)};
\addplot[bd2, forget plot] coordinates {(0.40,500) (0.405,1.3e4) (0.43,2.5e4) (0.45,3.5e4) (0.5,4.6e4) (0.55,5.2e4) (0.6,4.6e4) (0.65,3.5e4) (0.7,3.2e4) (0.75,3.6e4) (0.8,4.0e4) (0.85,3.0e4) (0.9,2.2e4) (0.95,1.8e4) (1.0,1.4e4) (1.1,1.0e4) (1.2,8e3) (1.35,7e3) (1.5,7e3) (1.65,5.5e3) (1.75,3.5e3) (1.85,2.0e3) (1.94,500)
 (1.05,500) (1.0,1.6e3) (0.9,2.8e3) (0.8,3.5e3) (0.7,5e3) (0.6,6e3) (0.55,7e3) (0.5,6e3) (0.45,8e3) (0.42,4e3) (0.40,500)};
\addplot[bd3, forget plot] coordinates {(0.185,500) (0.195,3.5e3) (0.205,3.9e3) (0.215,500) (0.31,500) (0.322,9e3) (0.335,500) (0.37,500) (0.40,2.5e3) (0.42,4.5e3) (0.44,2.5e3) (0.48,500)};
\addplot[bd4, forget plot] coordinates {(0.142,500) (0.144,5.6e3) (0.146,500) (0.174,500) (0.176,4.4e3) (0.178,500) (0.213,500) (0.215,4.6e3) (0.217,500)};
\addplot[l0, forget plot] coordinates {(0.721,3.3e4) (0.742,7.3e4) (0.763,1.02e5) (0.785,1.28e5) (0.807,1.43e5) (0.830,1.8e5) (0.844,2.17e5) (0.869,1.8e5) (0.893,2.0e5) (0.929,1.6e5) (0.967,1.6e5) (1.0,1.43e5) (1.02,1.28e5) (1.06,1.43e5) (1.10,1.02e5) (1.13,8.1e4) (1.16,7.3e4) (1.20,6.5e4) (1.23,5.8e4) (1.27,6.5e4) (1.30,4.6e4) (1.34,5.2e4) (1.38,4.6e4) (1.42,3.3e4) (1.46,3.7e4) (1.50,4.6e4) (1.54,3.7e4) (1.59,3.3e4) (1.63,2.6e4) (1.68,2.36e4) (1.73,1.5e4) (1.78,1.34e4) (1.86,1.34e4) (1.94,1.34e4) (1.99,1.07e4) (2.05,1.2e4) (2.11,1.2e4) (2.20,1.07e4) (2.29,1.34e4) (2.38,8.5e3) (2.49,1.07e4) (2.60,7.6e3) (2.72,9.5e3) (2.83,7.6e3) (2.95,8.5e3) (3.09,6.8e3) (3.22,7.6e3) (3.35,6.1e3) (3.50,4.4e3) (3.66,3.5e3) (3.81,2.8e3) (3.97,2.2e3) (4.10,1.76e3) (4.27,1.57e3) (4.44,1.4e3) (4.59,500) (4.84,500) (4.86,1.57e3) (5.05,1.4e3) (5.11,500) (5.48,500) (5.50,1.57e3) (5.68,1.57e3) (5.72,500)};
\addplot[l1, forget plot] coordinates {(0.514,1.68e4) (0.528,2.36e4) (0.550,3.3e4) (0.569,4.6e4) (0.582,7.3e4) (0.602,1.02e5) (0.626,1.43e5) (0.644,1.6e5) (0.674,1.8e5) (0.701,2.0e5) (0.721,2.25e5) (0.742,2.0e5) (0.763,1.8e5) (0.785,1.43e5) (0.807,1.28e5) (0.830,1.43e5) (0.854,1.14e5) (0.878,1.28e5) (0.903,9.1e4) (0.929,7.3e4) (0.956,5.8e4) (0.983,4.6e4) (1.02,4.1e4) (1.06,2.6e4) (1.08,4.6e4) (1.12,3.7e4) (1.15,2.6e4) (1.185,2.1e4) (1.21,3.7e4) (1.25,1.68e4) (1.30,2.1e4) (1.36,1.5e4) (1.40,1.2e4) (1.46,6.8e3) (1.50,1.2e4) (1.54,9.5e3) (1.59,7.6e3) (1.63,8.5e3) (1.68,1.5e4) (1.73,8.5e3) (1.78,6.1e3) (1.83,6.8e3) (1.88,8.5e3) (1.94,6.8e3) (1.99,7.6e3) (2.05,5.4e3) (2.11,6.1e3) (2.17,4.9e3) (2.23,5.4e3) (2.29,4.4e3) (2.36,3.5e3) (2.42,2.8e3) (2.49,2.0e3) (2.72,2.0e3) (2.73,500)};
\addplot[l2, forget plot] coordinates {(0.405,8.5e3) (0.415,6.1e3) (0.429,1.88e4) (0.446,2.1e4) (0.464,2.1e4) (0.486,2.95e4) (0.508,3.7e4) (0.528,2.95e4) (0.550,3.3e4) (0.569,2.6e4) (0.592,2.36e4) (0.615,2.1e4) (0.644,1.68e4) (0.674,1.5e4) (0.701,1.34e4) (0.729,1.2e4) (0.754,1.34e4) (0.785,1.5e4) (0.816,1.07e4) (0.844,1.34e4) (0.878,1.07e4) (0.914,1.34e4) (0.945,9.5e3) (0.983,7.6e3) (1.02,6.1e3) (1.06,4.4e3) (1.10,3.5e3) (1.15,3.1e3) (1.185,3.5e3) (1.23,3.1e3) (1.28,3.5e3) (1.33,2.8e3) (1.38,2.0e3) (1.43,2.5e3) (1.48,3.1e3) (1.54,2.8e3) (1.59,2.5e3) (1.63,2.2e3) (1.66,500)};
\addplot[l3, forget plot] coordinates {(0.281,500) (0.281,3.9e3) (0.3,nan) (0.322,500) (0.322,7.6e3) (0.35,nan) (0.422,500) (0.422,4.0e3)};
\addplot[l4, forget plot] coordinates {(0.144,500) (0.144,4.9e3) (0.16,nan) (0.176,500) (0.176,3.5e3) (0.19,nan) (0.215,500) (0.215,3.5e3)};
\frameit
\end{loglogaxis}
\end{tikzpicture}
\end{document}
